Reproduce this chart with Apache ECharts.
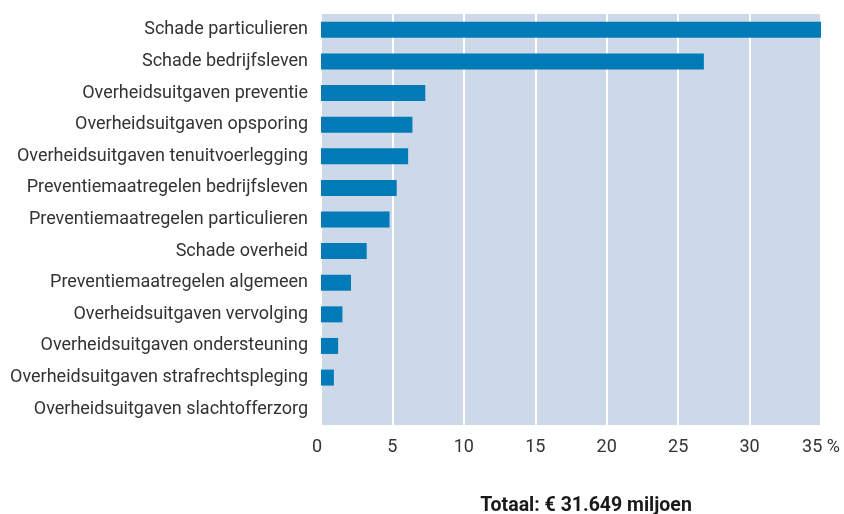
<!DOCTYPE html>
<html lang="nl">
  <head>
    <meta charset="utf-8" />
    <script src="https://cdn.jsdelivr.net/npm/echarts@6/dist/echarts.min.js"></script>
    <title>Kosten criminaliteit</title>
    <style>
      html, body { margin: 0; padding: 0; background: #fff; }
      #chart { width: 844px; height: 514px; }
    </style>
  </head>
  <body>
    <div id="chart"></div>
    <script>
      // categories, top to bottom
      var categories = [
        'Schade particulieren',
        'Schade bedrijfsleven',
        'Overheidsuitgaven preventie',
        'Overheidsuitgaven opsporing',
        'Overheidsuitgaven tenuitvoerlegging',
        'Preventiemaatregelen bedrijfsleven',
        'Preventiemaatregelen particulieren',
        'Schade overheid',
        'Preventiemaatregelen algemeen',
        'Overheidsuitgaven vervolging',
        'Overheidsuitgaven ondersteuning',
        'Overheidsuitgaven strafrechtspleging',
        'Overheidsuitgaven slachtofferzorg'
      ]
      // share in %
      var shares = [35, 26.8, 7.3, 6.4, 6.1, 5.3, 4.8, 3.2, 2.1, 1.5, 1.2, 0.9, 0]
      var totalText = 'Totaal: € 31.649 miljoen'

      var chart = echarts.init(document.getElementById('chart'))
      chart.setOption({
        animation: false,
        textStyle: { fontFamily: 'Roboto' },
        grid: {
          left: 321, right: 23, top: 14, bottom: 89,
          show: true, backgroundColor: '#cdd9e9', borderWidth: 0
        },
        xAxis: {
          type: 'value', min: 0, max: 35, interval: 5,
          axisLine: { show: false }, axisTick: { show: false },
          splitLine: { show: true, lineStyle: { color: '#ffffff', width: 2 } },
          axisLabel: {
            color: '#333', fontSize: 18, margin: 13,
            formatter: function (v) {
              if (v === 0) return '{z|0}'
              return v === 35 ? '35 %' : String(v)
            },
            rich: { z: { fontSize: 18, color: '#333', padding: [0, 8, 0, 0] } }
          }
        },
        yAxis: {
          type: 'category', data: categories, inverse: true,
          axisLine: { show: false }, axisTick: { show: false },
          axisLabel: { color: '#333', fontSize: 18, margin: 13 }
        },
        series: [{
          type: 'bar', data: shares, barWidth: 16,
          itemStyle: { color: '#007bb7' }
        }],
        title: {
          text: totalText, left: 581, top: 491, textAlign: 'center',
          textStyle: { fontSize: 19.5, fontWeight: 'bold', color: '#1a1a1a', fontFamily: 'Roboto' }
        }
      })
    </script>
  </body>
</html>
